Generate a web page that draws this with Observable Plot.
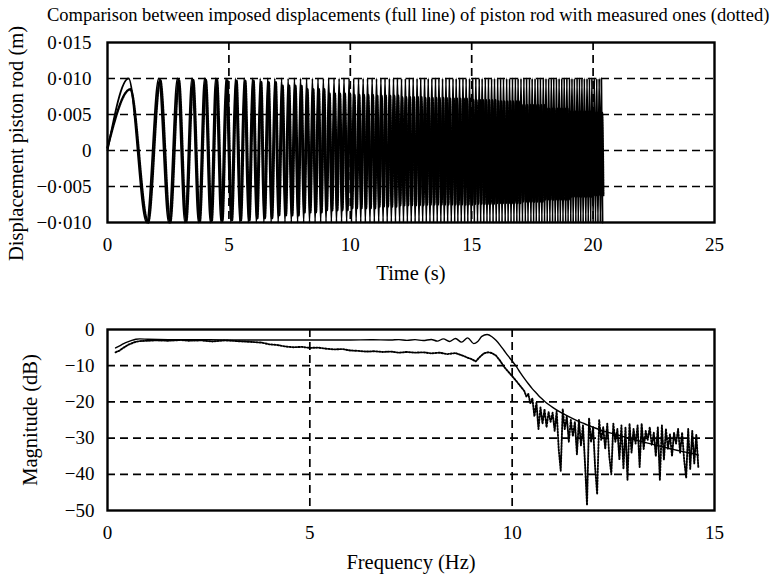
<!DOCTYPE html>
<html><head><meta charset="utf-8">
<script src="https://cdn.jsdelivr.net/npm/d3@7"></script>
<script src="https://cdn.jsdelivr.net/npm/@observablehq/plot@0.6"></script>
<style>
body{margin:0;background:#fff;width:778px;height:578px;position:relative;overflow:hidden;font-family:'Liberation Serif',serif;color:#000}
#title{position:absolute;left:47px;top:5px;font-size:18.5px;line-height:20px;white-space:nowrap;z-index:2}
#top{position:absolute;left:0;top:0;z-index:1}
#bot{position:absolute;left:0;top:290px}
</style></head><body>
<div id="title"></div><div id="top"></div><div id="bot"></div>
<script>
// ---------- texts ----------
const titleText = "Comparison between imposed displacements (full line) of piston rod with measured ones (dotted)";
const xLabelTop = "Time (s)";
const yLabelTop = "Displacement piston rod (m)";
const xLabelBot = "Frequency (Hz)";
const yLabelBot = "Magnitude (dB)";

// ---------- ticks ----------
const xTicksTop = [0, 5, 10, 15, 20, 25];
const yTicksTop = [-0.010, -0.005, 0, 0.005, 0.010, 0.015];
const yTickLabelsTop = ["\u22120\u00b7010", "\u22120\u00b7005", "0", "0\u00b7005", "0\u00b7010", "0\u00b7015"];
const xGridTop = [5, 10, 15, 20];
const yGridTop = [-0.005, 0, 0.005, 0.010];

const xTicksBot = [0, 5, 10, 15];
const yTicksBot = [0, -10, -20, -30, -40, -50];
const yTickLabelsBot = ["0", "\u221210", "\u221220", "\u221230", "\u221240", "\u221250"];
const xGridBot = [5, 10];
const yGridBot = [-10, -20, -30, -40];

// ---------- top chart: times (s) of successive extrema of the imposed chirp ----------
const extremaTimes = [
0.87,1.61,2.11,2.52,2.88,3.19,3.48,3.75,4.00,4.24,
4.46,4.68,4.88,5.08,5.27,5.45,5.63,5.80,5.97,6.13,
6.29,6.44,6.60,6.74,6.89,7.03,7.17,7.31,7.44,7.57,
7.70,7.83,7.95,8.08,8.20,8.32,8.44,8.55,8.67,8.78,
8.89,9.00,9.11,9.22,9.33,9.43,9.54,9.64,9.74,9.85,
9.95,10.05,10.14,10.24,10.34,10.43,10.53,10.62,10.71,10.81,
10.90,10.99,11.08,11.17,11.26,11.35,11.43,11.52,11.61,11.69,
11.78,11.86,11.94,12.03,12.11,12.19,12.27,12.35,12.43,12.51,
12.59,12.67,12.75,12.83,12.90,12.98,13.06,13.13,13.21,13.28,
13.36,13.43,13.51,13.58,13.65,13.73,13.80,13.87,13.94,14.01,
14.08,14.16,14.23,14.30,14.36,14.43,14.50,14.57,14.64,14.71,
14.77,14.84,14.91,14.98,15.04,15.11,15.17,15.24,15.31,15.37,
15.43,15.50,15.56,15.63,15.69,15.75,15.82,15.88,15.94,16.01,
16.07,16.13,16.19,16.25,16.31,16.38,16.44,16.50,16.56,16.62,
16.68,16.74,16.80,16.86,16.91,16.97,17.03,17.09,17.15,17.21,
17.26,17.32,17.38,17.44,17.49,17.55,17.61,17.66,17.72,17.78,
17.83,17.89,17.95,18.00,18.06,18.11,18.17,18.22,18.28,18.33,
18.38,18.44,18.49,18.55,18.60,18.65,18.71,18.76,18.81,18.87,
18.92,18.97,19.03,19.08,19.13,19.18,19.23,19.29,19.34,19.39,
19.44,19.49,19.54,19.59,19.64,19.70,19.75,19.80,19.85,19.90,
19.95,20.00,20.05,20.10,20.15,20.20,20.25,20.30,20.34,20.39];
const imposedAmplitude = 0.010;
const imposedStart = 0.0;
// measured response, read per 1-s interval (index = whole second)
const measuredUpper = [0.0085,0.0097,0.0098,0.0098,0.0098,0.0097,0.0095,0.0090,0.0085,0.0079,0.0077,0.0076,0.0074,0.0073,0.0072,0.0070,0.0068,0.0063,0.0058,0.0054,0.0052];
const measuredLower = [-0.0100,-0.0100,-0.0100,-0.0099,-0.0098,-0.0097,-0.0094,-0.0090,-0.0086,-0.0083,-0.0080,-0.0078,-0.0076,-0.0075,-0.0075,-0.0074,-0.0073,-0.0071,-0.0068,-0.0064,-0.0062];
const measuredLag = [0.07,0.06,0.06,0.05,0.05,0.045,0.04,0.04,0.035,0.035,0.03,0.03,0.03,0.03,0.03,0.03,0.03,0.03,0.03,0.03,0.03];
const measuredStart = 0.0004;

// ---------- bottom chart: frequency response [Hz, dB] ----------
const imposedResponse = [
[0.2,-5.1],[0.3,-4.5],[0.4,-3.9],[0.5,-3.4],[0.6,-3.0],[0.7,-2.7],[0.8,-2.6],[1.0,-2.7],[1.5,-2.8],[2.0,-2.8],
[3.0,-2.9],[4.0,-2.9],[5.0,-2.9],[6.0,-2.9],[6.5,-2.85],[7.0,-2.9],[7.2,-2.8],[7.4,-3.0],[7.6,-2.8],[7.8,-3.05],
[8.0,-2.75],[8.15,-3.2],[8.3,-2.6],[8.45,-3.3],[8.6,-2.5],[8.75,-3.5],[8.9,-2.3],[9.05,-3.9],[9.15,-3.3],[9.25,-1.9],
[9.38,-1.4],[9.5,-2.0],[9.6,-3.0],[9.7,-4.3],[9.8,-5.8],[9.9,-7.3],[10.0,-8.7],[10.1,-10.2],[10.2,-11.9],[10.3,-13.5],
[10.4,-15.0],[10.5,-16.4],[10.6,-17.6],[10.7,-18.8],[10.8,-19.8],[10.9,-20.7],[11.0,-21.5],[11.2,-22.9],[11.4,-24.1],[11.6,-25.2],
[11.8,-26.1],[12.0,-27.0],[12.25,-28.0],[12.5,-28.8],[12.75,-29.6],[13.0,-30.4],[13.25,-31.1],[13.5,-31.8],[13.75,-32.5],[14.0,-33.2],
[14.25,-33.8],[14.5,-34.4],[14.6,-34.7]];
const measuredResponse = [
[0.2,-6.3],[0.3,-5.8],[0.4,-5.0],[0.5,-4.3],[0.6,-3.8],[0.7,-3.4],[0.8,-3.2],[1.0,-3.1],[1.2,-3.0],[1.5,-3.1],
[1.8,-2.9],[2.0,-3.1],[2.3,-3.0],[2.6,-3.3],[2.9,-3.0],[3.2,-3.2],[3.5,-3.4],[3.8,-3.6],[4.0,-4.1],[4.2,-4.3],
[4.4,-4.7],[4.6,-4.9],[4.8,-4.8],[5.0,-5.1],[5.2,-5.0],[5.4,-5.3],[5.6,-5.5],[5.8,-5.4],[6.0,-5.8],[6.2,-5.9],
[6.4,-6.1],[6.6,-6.0],[6.8,-6.2],[7.0,-6.1],[7.2,-6.4],[7.4,-6.2],[7.6,-6.4],[7.8,-6.3],[8.0,-6.6],[8.2,-6.4],
[8.4,-6.8],[8.6,-6.5],[8.8,-7.3],[8.9,-7.8],[9.0,-8.2],[9.1,-8.8],[9.2,-7.6],[9.3,-6.6],[9.4,-6.3],[9.5,-6.5],
[9.6,-7.2],[9.7,-8.6],[9.8,-10.3],[9.9,-11.6],[10.0,-12.9],[10.1,-14.2],[10.2,-15.6],[10.3,-17.0],
[10.35,-18.5],[10.40,-17.8],[10.45,-20.5],[10.50,-19.0],[10.55,-24.0],[10.60,-20.2],[10.65,-27.5],[10.70,-21.5],[10.75,-26.0],[10.80,-22.0],
[10.85,-27.0],[10.90,-22.8],[10.95,-25.5],[11.00,-23.0],[11.05,-28.0],[11.10,-22.5],[11.15,-33.0],[11.20,-39.0],[11.25,-22.0],[11.30,-27.5],
[11.35,-24.0],[11.40,-31.0],[11.45,-25.0],[11.50,-29.5],[11.55,-25.5],[11.60,-34.5],[11.65,-25.0],[11.70,-32.0],[11.75,-26.5],[11.80,-37.0],
[11.85,-48.5],[11.90,-24.5],[11.95,-31.0],[12.00,-27.0],[12.05,-38.0],[12.10,-45.5],[12.15,-25.0],[12.20,-30.5],[12.25,-27.0],[12.30,-33.0],
[12.35,-26.0],[12.40,-35.0],[12.45,-40.0],[12.50,-26.0],[12.55,-31.0],[12.60,-27.5],[12.65,-36.0],[12.70,-26.5],[12.75,-38.5],[12.80,-27.0],
[12.85,-41.5],[12.90,-26.0],[12.95,-34.0],[13.00,-27.5],[13.05,-31.5],[13.10,-26.5],[13.15,-38.0],[13.20,-26.0],[13.25,-33.0],[13.30,-28.0],
[13.35,-30.5],[13.40,-27.0],[13.45,-32.0],[13.50,-28.5],[13.55,-35.0],[13.60,-27.0],[13.65,-41.5],[13.70,-26.5],[13.75,-36.0],[13.80,-27.5],
[13.85,-33.0],[13.90,-29.0],[13.95,-35.0],[14.00,-28.5],[14.05,-31.5],[14.10,-27.5],[14.15,-34.0],[14.20,-28.5],[14.25,-36.0],[14.30,-41.0],
[14.35,-27.5],[14.40,-38.5],[14.45,-28.0],[14.50,-37.0],[14.55,-29.0],[14.60,-38.0]];

// ---------- build tables ----------
const imposed = [{t: 0, v: imposedStart}].concat(
  extremaTimes.map((t, i) => ({t, v: i % 2 === 0 ? imposedAmplitude : -imposedAmplitude})));
const measured = [{t: 0, v: measuredStart}].concat(
  extremaTimes.map((t, i) => {
    const s = Math.min(measuredUpper.length - 1, Math.floor(t));
    return {t: t + measuredLag[s], v: i % 2 === 0 ? measuredUpper[s] : measuredLower[s]};
  }));

const font = "'Liberation Serif', 'Times New Roman', serif";
const gridStyle = {stroke: "black", strokeOpacity: 1, strokeWidth: 1.7, strokeDasharray: "8,5"};
const labelSize = 20.5;

document.getElementById("title").textContent = titleText;

const topChart = Plot.plot({
  width: 778, height: 290,
  marginLeft: 107, marginRight: 64, marginTop: 42, marginBottom: 68,
  style: {fontFamily: font, fontSize: "19px", background: "transparent", color: "black", overflow: "visible"},
  x: {domain: [0, 25], ticks: xTicksTop, tickSize: 0, tickPadding: 15, tickFormat: d => String(d), label: null},
  y: {domain: [-0.010, 0.015], ticks: yTicksTop, tickSize: 0, tickPadding: 16,
      tickFormat: d => yTickLabelsTop[yTicksTop.findIndex(v => Math.abs(v - d) < 1e-9)], label: null},
  marks: [
    Plot.gridX(xGridTop, gridStyle),
    Plot.gridY(yGridTop, gridStyle),
    Plot.line(imposed, {x: "t", y: "v", stroke: "black", strokeWidth: 1.8, curve: "monotone-x"}),
    Plot.line(measured, {x: "t", y: "v", stroke: "black", strokeWidth: 2.4, strokeDasharray: "1.6,1.0", curve: "monotone-x"}),
    Plot.frame({stroke: "black", strokeWidth: 2.4}),
    Plot.text([xLabelTop], {text: d => d, frameAnchor: "bottom", dy: 51, lineAnchor: "middle", textAnchor: "middle", fontSize: labelSize}),
    Plot.text([yLabelTop], {text: d => d, frameAnchor: "left", dx: -91, dy: 11, rotate: -90, lineAnchor: "middle", textAnchor: "middle", fontSize: labelSize})
  ]
});
document.getElementById("top").appendChild(topChart);

const botChart = Plot.plot({
  width: 778, height: 288,
  marginLeft: 107, marginRight: 64, marginTop: 39, marginBottom: 68,
  style: {fontFamily: font, fontSize: "19px", background: "white", color: "black", overflow: "visible"},
  x: {domain: [0, 15], ticks: xTicksBot, tickSize: 0, tickPadding: 15, tickFormat: d => String(d), label: null},
  y: {domain: [-50, 0], ticks: yTicksBot, tickSize: 0, tickPadding: 13,
      tickFormat: d => yTickLabelsBot[yTicksBot.indexOf(d)], label: null},
  marks: [
    Plot.gridX(xGridBot, gridStyle),
    Plot.gridY(yGridBot, gridStyle),
    Plot.line(imposedResponse, {x: d => d[0], y: d => d[1], stroke: "black", strokeWidth: 1.4, curve: "monotone-x"}),
    Plot.line(measuredResponse, {x: d => d[0], y: d => d[1], stroke: "black", strokeWidth: 1.9, strokeDasharray: "1.4,1.6"}),
    Plot.frame({stroke: "black", strokeWidth: 2.4}),
    Plot.text([xLabelBot], {text: d => d, frameAnchor: "bottom", dy: 52, lineAnchor: "middle", textAnchor: "middle", fontSize: labelSize}),
    Plot.text([yLabelBot], {text: d => d, frameAnchor: "left", dx: -77, rotate: -90, lineAnchor: "middle", textAnchor: "middle", fontSize: labelSize})
  ]
});
document.getElementById("bot").appendChild(botChart);
</script>
</body></html>
